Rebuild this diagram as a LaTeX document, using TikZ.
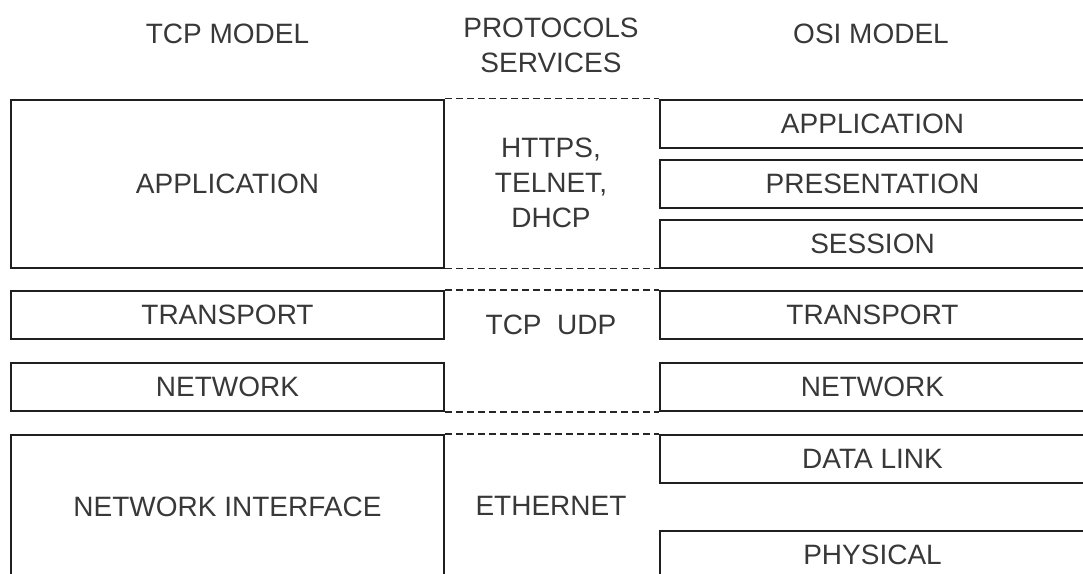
\documentclass[tikz,border=0pt]{standalone}
\usepackage{fontspec}
\setmainfont{Liberation Sans}
\begin{document}
\begin{tikzpicture}[x=1pt,y=-1pt,
  txt/.style={text=black!78, font=\fontsize{28}{34.5}\selectfont, inner sep=0pt, align=center},
  layer/.style={txt, draw=black!88, line width=2pt, minimum height=48pt},
  leftlayer/.style={layer, minimum width=433pt},
  rightlayer/.style={layer, minimum width=425pt},
  boundary/.style={draw=black!85, line width=1.8pt, dash pattern=on 7pt off 4pt}]
\useasboundingbox (0,0) rectangle (1083,573);
\clip (0,0) rectangle (1083,573);

% column headings
\node[txt] (htcp)   at (227.5,33.5) {TCP MODEL};
\node[txt, font=\fontsize{28}{35}\selectfont] (hproto) at (551,45.5) {PROTOCOLS\\SERVICES};
\node[txt] (hosi)   at (871,33.5) {OSI MODEL};

% TCP/IP model layers
\node[leftlayer, minimum height=168pt] (lapp)   at (227.5,183.5) {APPLICATION};
\node[leftlayer]                      (ltrans) at (227.5,315)   {TRANSPORT};
\node[leftlayer]                      (lnet)   at (227.5,387)   {NETWORK};
\node[leftlayer, minimum height=143pt] (lni)    at (227.5,506.5) {NETWORK INTERFACE};

% OSI model layers
\node[rightlayer] (rapp)   at (872.5,123.5) {APPLICATION};
\node[rightlayer] (rpres)  at (872.5,183.5) {PRESENTATION};
\node[rightlayer] (rsess)  at (872.5,243.5) {SESSION};
\node[rightlayer] (rtrans) at (872.5,315)   {TRANSPORT};
\node[rightlayer] (rnet)   at (872.5,387)   {NETWORK};
\node[rightlayer] (rdl)    at (872.5,459)   {DATA LINK};
\node[rightlayer] (rphy)   at (872.5,555)   {PHYSICAL};

% protocols and services in between
\node[txt, font=\fontsize{28}{35}\selectfont] (papp) at (551,183) {HTTPS,\\TELNET,\\DHCP};
\node[txt] (ptrans) at (551,325) {TCP\ \ UDP};
\node[txt] (peth)   at (551,506) {ETHERNET};

% dashed group boundaries
\draw[boundary] (lapp.north east)   -- (rapp.north west);
\draw[boundary] (lapp.south east)   -- (rsess.south west);
\draw[boundary] (ltrans.north east) -- (rtrans.north west);
\draw[boundary] (lnet.south east)   -- (rnet.south west);
\draw[boundary] (lni.north east)    -- (rdl.north west);
\end{tikzpicture}
\end{document}
